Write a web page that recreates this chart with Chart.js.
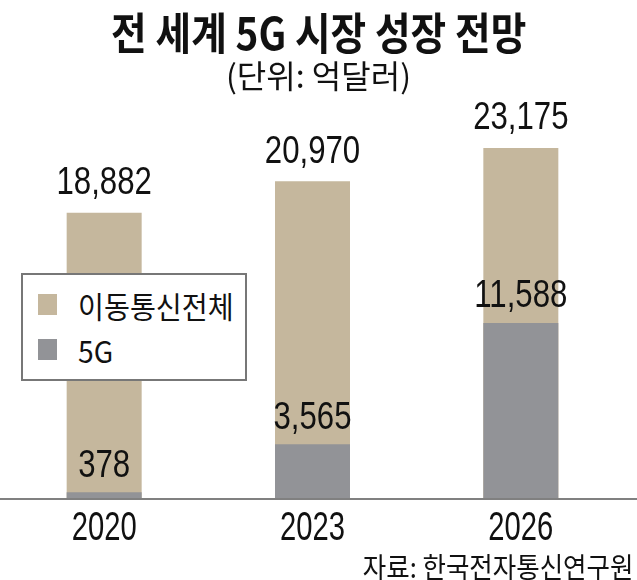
<!DOCTYPE html>
<html>
<head>
<meta charset="utf-8">
<script src="https://cdn.jsdelivr.net/npm/chart.js@4"></script>
<style>
  body { margin: 0; background: #fff; }
  #wrap { position: relative; width: 637px; height: 580px; overflow: hidden; }
  #chart { position: absolute; left: 0; top: 0; }
  .txt { position: absolute; font-family: 'Noto Sans CJK KR', sans-serif; color: #111; white-space: nowrap; }
  #title { left: 0; width: 637px; top: 1px; text-align: center; font-size: 44px; font-weight: bold; line-height: 60px; transform: scaleX(0.88); transform-origin: 320px 0; }
  #unit { left: 0; width: 637px; top: 53px; text-align: center; font-size: 32px; line-height: 42px; transform: scaleX(1); transform-origin: 319px 0; }
  #legend { position: absolute; left: 21px; top: 273px; width: 222px; height: 104px; border: 2px solid #777; background: #fff; }
  .item { position: absolute; left: 15px; font-family: 'Noto Sans CJK KR', sans-serif; font-size: 30px; line-height: 34px; color: #111; white-space: nowrap; }
  .sw { position: absolute; left: 0; top: 6px; width: 19px; height: 21px; }
  .lab { position: absolute; left: 40px; top: 0; transform: scaleX(0.94); transform-origin: 0 0; }
  #source { right: 4px; top: 546px; font-size: 28px; line-height: 40px; transform: scaleX(0.91); transform-origin: 100% 0; }
</style>
</head>
<body>
<div id="wrap">
  <canvas id="chart" width="637" height="580"></canvas>
  <div id="title" class="txt">전 세계 5G 시장 성장 전망</div>
  <div id="unit" class="txt">(단위: 억달러)</div>
  <div id="legend">
    <div class="item" style="top:13px"><span class="sw" style="background:#c5b79d"></span><span class="lab">이동통신전체</span></div>
    <div class="item" style="top:58px"><span class="sw" style="background:#929397"></span><span class="lab">5G</span></div>
  </div>
  <div id="source" class="txt">자료: 한국전자통신연구원</div>
</div>
<script>
const years = ['2020', '2023', '2026']
const totalMarket = [18882, 20970, 23175]
const market5g = [378, 3565, 11588]

const numFont = "'Liberation Sans', Arial, sans-serif"

// condensed text like the newspaper face
function narrowText(ctx, text, x, y, sx) {
    ctx.save()
    ctx.translate(x, y)
    ctx.scale(sx, 1)
    ctx.fillText(text, 0, 0)
    ctx.restore()
}

// value labels, year labels and the long baseline
const barLabels = {
    id: 'barLabels',
    afterDatasetsDraw(chart) {
        const ctx = chart.ctx
        const area = chart.chartArea
        ctx.save()
        ctx.strokeStyle = '#808080'
        ctx.lineWidth = 2
        ctx.beginPath()
        ctx.moveTo(0, area.bottom + 1)
        ctx.lineTo(chart.width, area.bottom + 1)
        ctx.stroke()

        ctx.fillStyle = '#111'
        ctx.textAlign = 'center'
        ctx.textBaseline = 'middle'
        ctx.font = '38px ' + numFont
        chart.data.datasets.forEach((ds, i) => {
            const meta = chart.getDatasetMeta(i)
            const off = i == 0 ? 29 : 26
            meta.data.forEach((bar, j) => {
                narrowText(ctx, ds.data[j].toLocaleString('en-US'), bar.x, bar.y - off, 0.82)
            })
        })

        const xs = chart.scales.x
        ctx.font = '40px ' + numFont
        chart.data.labels.forEach((lab, i) => {
            narrowText(ctx, lab, xs.getPixelForValue(i), area.bottom + 31, 0.73)
        })
        ctx.restore()
    }
}

new Chart(document.getElementById('chart'), {
    type: 'bar',
    data: {
        labels: years,
        datasets: [
            {
                label: '이동통신전체',
                data: totalMarket,
                backgroundColor: '#c5b79d',
                grouped: false,
                order: 1
            },
            {
                label: '5G',
                data: market5g,
                backgroundColor: '#929397',
                grouped: false,
                order: 0
            }
        ]
    },
    options: {
        responsive: false,
        animation: false,
        events: [],
        layout: { padding: { top: 100, left: 0, right: 12, bottom: 82 } },
        datasets: { bar: { barPercentage: 0.36, categoryPercentage: 1 } },
        scales: {
            x: { display: false },
            y: { display: false, min: 0, max: 26350 }
        },
        plugins: {
            legend: { display: false },
            tooltip: { enabled: false }
        }
    },
    plugins: [barLabels]
})
</script>
</body>
</html>
